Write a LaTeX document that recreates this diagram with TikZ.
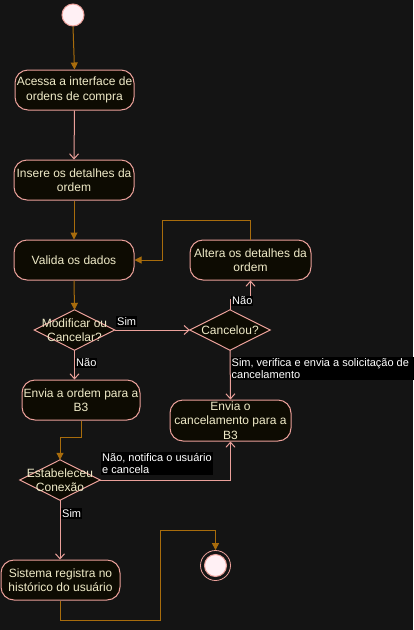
\documentclass[tikz,border=0pt]{standalone}
\usepackage{fontspec}
\setmainfont{Liberation Sans}
\usetikzlibrary{arrows.meta}
\definecolor{bgc}{HTML}{141414}
\definecolor{boxfill}{HTML}{0D0B02}
\definecolor{pinkc}{HTML}{EBA09A}
\definecolor{brownc}{HTML}{A86C0C}
\definecolor{txtc}{HTML}{F0EBC8}
\definecolor{startfill}{HTML}{FFF0F4}
\begin{document}
\begin{tikzpicture}[x=1pt,y=-1pt,
  actbox/.style={draw=pinkc, fill=boxfill, rounded corners=13pt, line width=1pt,
    text=txtc, font=\fontsize{12}{14.5}\selectfont, align=center, inner sep=0pt},
  diabox/.style={inner sep=0pt},
  diatext/.style={text=txtc, font=\fontsize{12}{14.5}\selectfont, align=center, inner sep=0pt},
  diashape/.style={draw=pinkc, fill=boxfill, line width=1pt},
  pinkarr/.style={draw=pinkc, line width=1pt, -{Straight Barb[length=5pt,width=9pt]}},
  brownarr/.style={draw=brownc, line width=1pt, -{Triangle[length=7pt,width=7pt]}},
  lbl/.style={fill=black, text=white, font=\fontsize{11}{12.5}\selectfont, align=left, inner sep=1pt}
]
\fill[bgc] (0,0) rectangle (413,630);
\useasboundingbox (0,0) rectangle (413,630);

% start
\node[circle, draw=pinkc, fill=startfill, line width=1pt, minimum size=22pt, inner sep=0pt] (start) at (73,15) {};

% activities
\node[actbox, minimum width=119pt, minimum height=40pt] (n1) at (74.5,90) {Acessa a interface de\\ordens de compra};
\node[actbox, minimum width=120pt, minimum height=40pt] (n2) at (74,180) {Insere os detalhes da\\ordem};
\node[actbox, minimum width=120pt, minimum height=40pt] (n3) at (74,260) {Valida os dados};
\node[actbox, minimum width=121pt, minimum height=40pt] (alt) at (250.5,260) {Altera os detalhes da\\ordem};
\node[actbox, minimum width=118pt, minimum height=40pt] (eor) at (81,400) {Envia a ordem para a\\B3};
\node[actbox, minimum width=121pt, minimum height=41pt] (eoc) at (230.5,420.5) {Envia o\\cancelamento para a\\B3};
\node[actbox, minimum width=119pt, minimum height=40pt] (sis) at (60.5,580) {Sistema registra no\\hist\'orico do usu\'ario};

% decisions
\node[diabox, minimum width=80pt, minimum height=40pt] (mod) at (74.5,330) {};
\draw[diashape] (mod.west) -- (mod.north) -- (mod.east) -- (mod.south) -- cycle;
\node[diatext] at (mod.center) {Modificar ou\\Cancelar?};

\node[diabox, minimum width=80pt, minimum height=40pt] (can) at (230,330) {};
\draw[diashape] (can.west) -- (can.north) -- (can.east) -- (can.south) -- cycle;
\node[diatext] at (can.center) {Cancelou?};

\node[diabox, minimum width=80pt, minimum height=40pt] (est) at (60,480) {};
\draw[diashape] (est.west) -- (est.north) -- (est.east) -- (est.south) -- cycle;
\node[diatext] at (est.center) {Estabeleceu\\Conex\~ao};

% end
\node[circle, draw=pinkc, line width=0.8pt, minimum size=30pt, inner sep=0pt] (endo) at (215.5,565.5) {};
\node[circle, draw=pinkc, fill=startfill, line width=1pt, minimum size=22pt, inner sep=0pt] (endi) at (215.5,565.5) {};

% connectors
\draw[brownarr] (start.south) -- (n1.north);
\draw[pinkarr] (n1.south) -- (n2.north);
\draw[brownarr] (n2.south) -- (n3.north);
\draw[brownarr] (alt.north) |- (162,220) |- (n3.east);
\draw[brownarr] (n3.south) -- (mod.north);
\draw[pinkarr] (mod.east) -- (can.west);
\draw[pinkarr] (can.north) -- (230,299) -| (alt.south);
\draw[pinkarr] (mod.south) -- (mod.south |- eor.north);
\draw[pinkarr] (can.south) -- (eoc.north);
\draw[brownarr] (eor.south) -- (81,437) -| (est.north);
\draw[pinkarr] (est.east) -| (eoc.south);
\draw[pinkarr] (est.south) -- (est.south |- sis.north);
\draw[brownarr] (sis.south) |- (160,620) |- (215.5,530) -- (endo.north);

% labels
\node[lbl, anchor=west] (l1) at (116,321.5) {Sim};
\node[lbl, anchor=west] (l2) at (231,301) {N\~ao};
\node[lbl, anchor=west] (l3) at (75,363) {N\~ao};
\node[lbl, anchor=north west] (l4) at (230.5,357) {Sim, verifica e envia a solicita\c{c}\~ao de\\cancelamento\hspace*{125pt}};
\node[lbl, anchor=north west] (l5) at (101,452) {N\~ao, notifica o usu\'ario\\e cancela};
\node[lbl, anchor=west] (l6) at (61,513.5) {Sim};
\end{tikzpicture}
\end{document}
